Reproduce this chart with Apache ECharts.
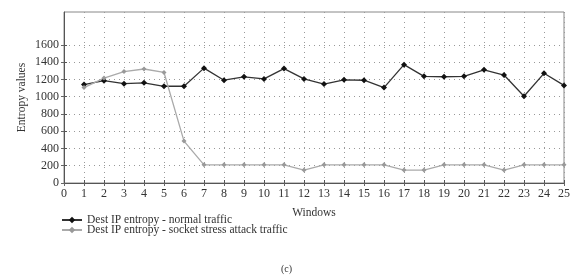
<!DOCTYPE html>
<html><head><meta charset="utf-8">
<script src="https://cdn.jsdelivr.net/npm/echarts@6/dist/echarts.min.js"></script>
<style>html,body{margin:0;padding:0;background:#fff}#c{width:573px;height:277px}</style>
</head><body><div id="c"></div>
<script>
const windows = [1,2,3,4,5,6,7,8,9,10,11,12,13,14,15,16,17,18,19,20,21,22,23,24,25];
const normalTraffic = [1140,1185,1150,1160,1120,1120,1330,1190,1230,1205,1325,1205,1145,1195,1190,1105,1370,1235,1230,1235,1310,1250,1005,1270,1130];
const attackTraffic = [1105,1215,1290,1320,1280,485,210,210,210,210,210,150,210,210,210,210,150,150,210,210,210,150,210,210,210];
const yTicks = [0,200,400,600,800,1000,1200,1400,1600];
const legendNames = ['Dest IP entropy - normal traffic','Dest IP entropy - socket stress attack traffic'];

const font = 'Liberation Serif, DejaVu Serif, serif';
const chart = echarts.init(document.getElementById('c'));
chart.setOption({
  animation:false,
  textStyle:{fontFamily:font},
  grid:{left:64,right:6,top:12,bottom:94,show:true,borderColor:'#888',borderWidth:1},
  xAxis:[{
    type:'value',min:0,max:25,interval:1,
    name:'Windows',nameLocation:'middle',nameGap:24,
    nameTextStyle:{fontFamily:font,fontSize:11.5,color:'#333'},
    axisLine:{lineStyle:{color:'#555'}},
    axisTick:{inside:true,length:3,lineStyle:{color:'#555'}},
    axisLabel:{fontFamily:font,fontSize:12,color:'#333',margin:5},
    splitLine:{show:true,lineStyle:{type:[1,4],color:'#999'}}
  },{
    type:'value',min:0,max:25,interval:1,position:'top',
    axisLine:{show:false},axisTick:{inside:true,length:3,lineStyle:{color:'#666'}},
    axisLabel:{show:false},splitLine:{show:false}
  }],
  yAxis:[{
    type:'value',min:0,max:1980,interval:200,
    name:'Entropy values',nameLocation:'middle',nameGap:36,nameMoveOverlap:false,
    nameTextStyle:{fontFamily:font,fontSize:11.5,color:'#333'},
    axisLine:{show:true,lineStyle:{color:'#555'}},
    axisTick:{inside:true,length:3,lineStyle:{color:'#555'},customValues:yTicks},
    axisLabel:{fontFamily:font,fontSize:12,color:'#333',margin:5,customValues:yTicks,formatter:v=>String(v)},
    splitLine:{show:true,lineStyle:{type:[1,4],color:'#999'}}
  },{
    type:'value',min:0,max:1980,interval:200,position:'right',
    axisLine:{show:false},axisTick:{inside:true,length:3,lineStyle:{color:'#666'},customValues:yTicks},
    axisLabel:{show:false},splitLine:{show:false}
  }],
  legend:{
    orient:'vertical',left:61,top:214,padding:0,itemGap:-2,itemWidth:20,itemHeight:8,
    textStyle:{fontFamily:font,fontSize:11.5,color:'#333'},
    data:legendNames
  },
  graphic:[{type:'text',left:'center',top:264,style:{text:'(c)',font:'10px '+font,fill:'#333'}}],
  series:[{
    name:legendNames[0],type:'line',
    data:windows.map((w,i)=>[w,normalTraffic[i]]),
    symbol:'diamond',symbolSize:6,
    lineStyle:{color:'#333',width:1.3},itemStyle:{color:'#111'}
  },{
    name:legendNames[1],type:'line',
    data:windows.map((w,i)=>[w,attackTraffic[i]]),
    symbol:'diamond',symbolSize:5,
    lineStyle:{color:'#aaa',width:1.3},itemStyle:{color:'#999'}
  }]
});
</script></body></html>
